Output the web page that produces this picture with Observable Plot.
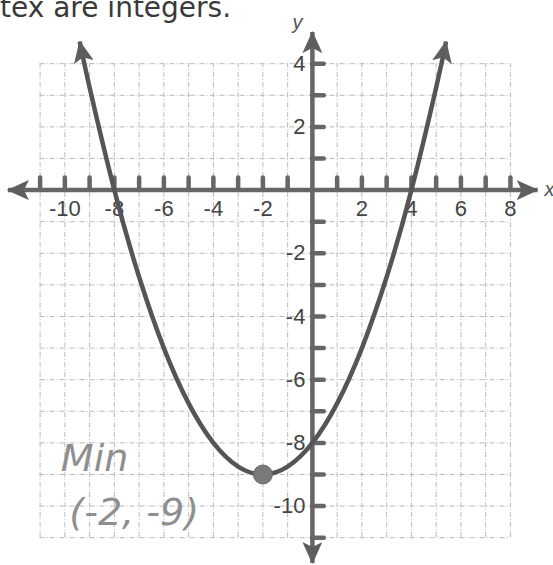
<!DOCTYPE html>
<html>
<head>
<meta charset="utf-8">
<script src="https://cdn.jsdelivr.net/npm/d3@7"></script>
<script src="https://cdn.jsdelivr.net/npm/@observablehq/plot@0.6"></script>
<style>
  html, body { margin: 0; padding: 0; background: #fff; }
  #wrap { position: relative; width: 553px; height: 565px; overflow: hidden; }
  #wrap svg { position: absolute; left: 0; top: 0; }
  #hdr { position: absolute; left: 0; top: -9px; font: 28px "DejaVu Sans", sans-serif; color: #3a3a3a; white-space: nowrap; z-index: 2; }
</style>
</head>
<body>
<div id="wrap">
  <div id="hdr">tex are integers.</div>
</div>
<script>
// Points read along the parabola with vertex (-2, -9), roots -8 and 4
const curveX = [-9.4, -9, -8, -7, -6, -5, -4, -3, -2, -1, 0, 1, 2, 3, 4, 5, 5.4];
const curveY = [4.7, 3.25, 0, -2.75, -5, -6.75, -8, -8.75, -9, -8.75, -8, -6.75, -5, -2.75, 0, 3.25, 4.7];
const curvePoints = curveX.map((x, i) => ({x, y: curveY[i]}));

// Marked minimum
const vertex = [{x: -2, y: -9}];

// Axis tick labels
const xLabels = [-10, -8, -6, -4, -2, 2, 4, 6, 8];
const yLabels = [4, 2, -2, -4, -6, -8, -10];

// Grid lines, one per unit, and unit ticks on the axes
const gridX = [-11, -10, -9, -8, -7, -6, -5, -4, -3, -2, -1, 0, 1, 2, 3, 4, 5, 6, 7, 8];
const gridY = [4, 3, 2, 1, 0, -1, -2, -3, -4, -5, -6, -7, -8, -9, -10, -11];
const xTicks = gridX.filter(d => d !== 0);
const yTicks = gridY.filter(d => d !== 0);

// Extent of the axis arrows
const xAxisEnds = [-12.3, 9.1];
const yAxisEnds = [-11.8, 5.0];
const axes = [
  {x1: xAxisEnds[0], y1: 0, x2: xAxisEnds[1], y2: 0},
  {x1: 0, y1: yAxisEnds[0], x2: 0, y2: yAxisEnds[1]}
];

// Handwritten note beside the minimum
const notes = [
  {text: "Min", x: -8.8, y: -8.5},
  {text: "(-2, -9)", x: -7.2, y: -10.2}
];

const ink = "#555";
const labelFont = "'Liberation Sans', Arial, sans-serif";

const chart = Plot.plot({
  width: 553,
  height: 565,
  margin: 0,
  x: {domain: [-12.6, 9.74], axis: null},
  y: {domain: [-11.88, 6.0], axis: null},
  style: {background: "transparent", overflow: "visible"},
  marks: [
    Plot.ruleX(gridX, {x: d => d, y1: gridY[gridY.length - 1], y2: gridY[0], stroke: "#b9b9b9", strokeWidth: 1, strokeDasharray: "5,2,1,2"}),
    Plot.ruleY(gridY, {y: d => d, x1: gridX[0], x2: gridX[gridX.length - 1], stroke: "#b9b9b9", strokeWidth: 1, strokeDasharray: "5,2,1,2"}),
    Plot.ruleX(xTicks, {x: d => d, y1: 0, y2: 0.38, stroke: "#666", strokeWidth: 4.5, strokeLinecap: "round"}),
    Plot.ruleY(yTicks, {y: d => d, x1: 0, x2: 0.48, stroke: "#666", strokeWidth: 4.5, strokeLinecap: "round"}),
    Plot.text(xLabels, {x: d => d, y: 0, dy: 19, text: d => String(d), fontSize: 22, fill: "#444", fontFamily: labelFont}),
    Plot.text(yLabels, {x: 0, y: d => d, dx: -7, text: d => String(d), fontSize: 22, fill: "#444", textAnchor: "end", fontFamily: labelFont}),
    Plot.link(axes, {x1: "x1", y1: "y1", x2: "x2", y2: "y2", stroke: "#666", strokeWidth: 4.5, strokeLinecap: "butt", ariaDescription: "axes"}),
    Plot.text(["y"], {x: 0, frameAnchor: "top", dx: -15, dy: 14, text: d => d, fontSize: 20, fontStyle: "italic", fill: "#555", fontFamily: labelFont}),
    Plot.text(["x"], {y: 0, frameAnchor: "right", dx: -9, dy: -1, textAnchor: "start", text: d => d, fontSize: 20, fontStyle: "italic", fill: "#555", fontFamily: labelFont}),
    Plot.line(curvePoints, {x: "x", y: "y", curve: "natural", stroke: ink, strokeWidth: 4.5, strokeLinecap: "butt", ariaDescription: "curve"}),
    Plot.dot(vertex, {x: "x", y: "y", r: 9.5, fill: "#7a7a7a", stroke: "#6a6a6a", strokeWidth: 1}),
    Plot.text(notes, {x: "x", y: "y", text: "text", fontSize: 38, fontStyle: "italic", fill: "#8f8f8f", fontFamily: "'DejaVu Sans', sans-serif", fontWeight: 300})
  ]
});

// Filled arrowheads on both ends of the axes and the curve
const svg = d3.select(chart);
const defs = svg.insert("defs", ":first-child");
defs.append("marker")
  .attr("id", "head")
  .attr("viewBox", "0 0 22 20")
  .attr("refX", 21)
  .attr("refY", 10)
  .attr("markerWidth", 22)
  .attr("markerHeight", 20)
  .attr("markerUnits", "userSpaceOnUse")
  .attr("orient", "auto-start-reverse")
  .append("path")
  .attr("d", "M0,0 L22,10 L0,20 L5,10 Z")
  .attr("fill", "#5e5e5e");
svg.selectAll('g[aria-description="axes"] path, g[aria-description="curve"] path')
  .attr("marker-start", "url(#head)")
  .attr("marker-end", "url(#head)");

document.getElementById("wrap").appendChild(chart);
</script>
</body>
</html>
